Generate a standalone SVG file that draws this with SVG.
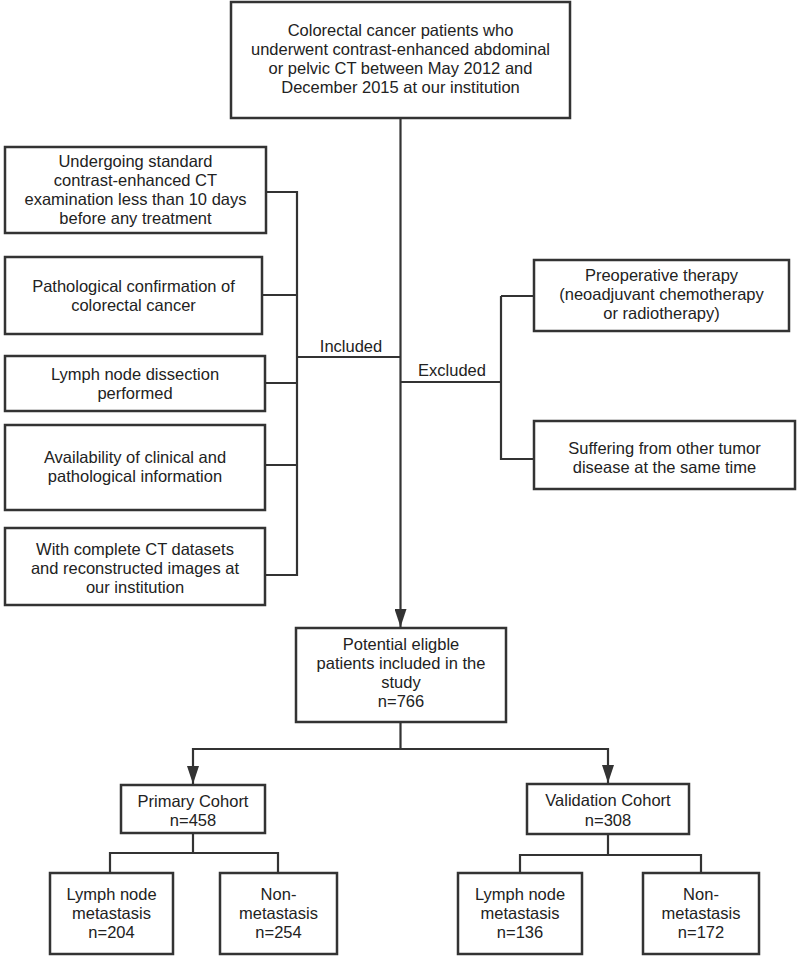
<svg xmlns="http://www.w3.org/2000/svg" width="797" height="956" viewBox="0 0 797 956">
<style>
.box{fill:#fff;stroke:#333;stroke-width:2.5}
.ln{fill:none;stroke:#333;stroke-width:2.2}
text{font-family:"Liberation Sans","Arial",sans-serif;font-size:16.5px;fill:#222;text-anchor:middle}
</style>
<defs>
<marker id="ah" viewBox="0 0 18 12" refX="18" refY="6" markerWidth="18" markerHeight="12" markerUnits="userSpaceOnUse" orient="auto">
<path d="M0,0 L18,6 L0,12 Z" fill="#333"/>
</marker>
</defs>
<rect width="797" height="956" fill="#fff"/>
<g id="connectors">
<path class="ln" d="M400.5,118 V627" marker-end="url(#ah)"/>
<path class="ln" d="M266,192 H297 M262,295 H297 M265,383 H297 M265,465 H297 M265,575 H297 M297,191 V576"/>
<path class="ln" d="M297,357 H400"/>
<path class="ln" d="M401,382 H501 M501,296 V460 M501,296 H534 M501,459 H534"/>
<path class="ln" d="M400.5,722 V749 M193,749 H608"/>
<path class="ln" d="M193,748 V784" marker-end="url(#ah)"/>
<path class="ln" d="M608,748 V783" marker-end="url(#ah)"/>
<path class="ln" d="M193,833 V853 M110,853 H278 M110,852 V873 M278,852 V873"/>
<path class="ln" d="M608,834 V855 M520,855 H701 M520,854 V873 M701,854 V873"/>
</g>
<g id="n-top">
<rect class="box" x="231" y="2" width="339" height="116"/>
<text x="400.5" y="36">Colorectal cancer patients who</text>
<text x="400.5" y="55">underwent contrast-enhanced abdominal</text>
<text x="400.5" y="74">or pelvic CT between May 2012 and</text>
<text x="400.5" y="93">December 2015 at our institution</text>
</g>
<g id="n-inc1">
<rect class="box" x="5" y="147" width="261" height="86"/>
<text x="135.5" y="167">Undergoing standard</text>
<text x="135.5" y="186">contrast-enhanced CT</text>
<text x="135.5" y="205">examination less than 10 days</text>
<text x="135.5" y="224">before any treatment</text>
</g>
<g id="n-inc2">
<rect class="box" x="5" y="257" width="257" height="77"/>
<text x="133.5" y="292">Pathological confirmation of</text>
<text x="133.5" y="311">colorectal cancer</text>
</g>
<g id="n-inc3">
<rect class="box" x="5" y="356" width="260" height="55"/>
<text x="135" y="380">Lymph node dissection</text>
<text x="135" y="399">performed</text>
</g>
<g id="n-inc4">
<rect class="box" x="5" y="425" width="260" height="85"/>
<text x="135" y="463">Availability of clinical and</text>
<text x="135" y="482">pathological information</text>
</g>
<g id="n-inc5">
<rect class="box" x="5" y="528" width="260" height="77"/>
<text x="135" y="555">With complete CT datasets</text>
<text x="135" y="574">and reconstructed images at</text>
<text x="135" y="593">our institution</text>
</g>
<g id="lbl-included"><text x="351" y="352">Included</text></g>
<g id="lbl-excluded"><text x="452" y="376">Excluded</text></g>
<g id="n-exc1">
<rect class="box" x="534" y="260" width="255" height="71"/>
<text x="661.5" y="281">Preoperative therapy</text>
<text x="661.5" y="300">(neoadjuvant chemotherapy</text>
<text x="661.5" y="319">or radiotherapy)</text>
</g>
<g id="n-exc2">
<rect class="box" x="534" y="421" width="261" height="68"/>
<text x="664.5" y="454">Suffering from other tumor</text>
<text x="664.5" y="473">disease at the same time</text>
</g>
<g id="n-potential">
<rect class="box" x="296" y="628" width="210" height="94"/>
<text x="401" y="650">Potential eligble</text>
<text x="401" y="669">patients included in the</text>
<text x="401" y="688">study</text>
<text x="401" y="707">n=766</text>
</g>
<g id="n-primary">
<rect class="box" x="121" y="785" width="144" height="48"/>
<text x="193" y="807">Primary Cohort</text>
<text x="193" y="826">n=458</text>
</g>
<g id="n-validation">
<rect class="box" x="527" y="784" width="162" height="50"/>
<text x="608" y="806">Validation Cohort</text>
<text x="608" y="826">n=308</text>
</g>
<g id="n-p-lnm">
<rect class="box" x="50" y="873" width="123" height="81"/>
<text x="111.5" y="900">Lymph node</text>
<text x="111.5" y="919">metastasis</text>
<text x="111.5" y="938">n=204</text>
</g>
<g id="n-p-non">
<rect class="box" x="220" y="873" width="117" height="81"/>
<text x="278.5" y="900">Non-</text>
<text x="278.5" y="919">metastasis</text>
<text x="278.5" y="938">n=254</text>
</g>
<g id="n-v-lnm">
<rect class="box" x="458" y="873" width="124" height="81"/>
<text x="520" y="900">Lymph node</text>
<text x="520" y="919">metastasis</text>
<text x="520" y="938">n=136</text>
</g>
<g id="n-v-non">
<rect class="box" x="643" y="873" width="116" height="81"/>
<text x="701" y="900">Non-</text>
<text x="701" y="919">metastasis</text>
<text x="701" y="938">n=172</text>
</g>
</svg>
